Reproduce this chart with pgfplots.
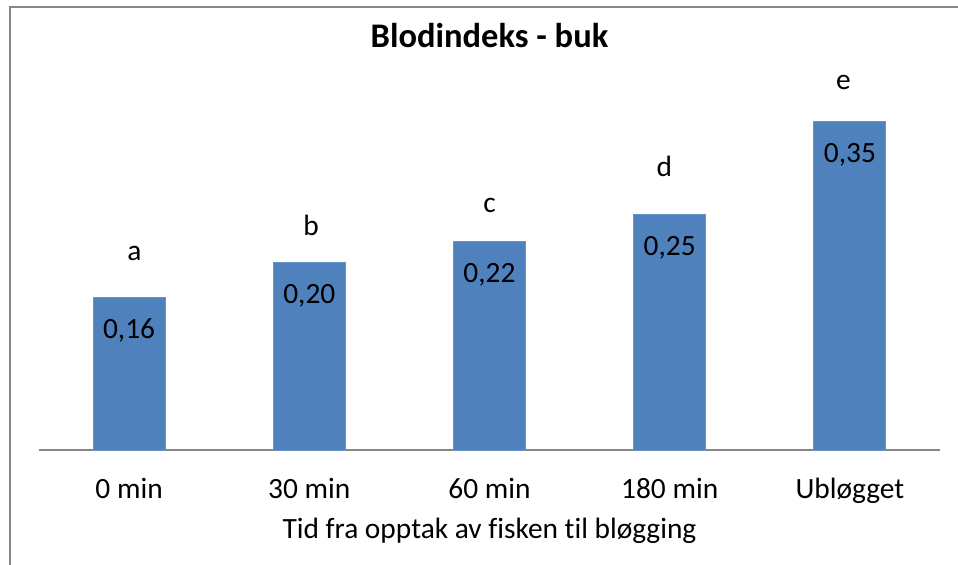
\documentclass[border=0pt]{standalone}
\usepackage{pgfplots}
\pgfplotsset{compat=1.18}
\usepackage{fontspec}
\setmainfont{Carlito}[Ligatures={NoCommon}]
\definecolor{barblue}{HTML}{4F81BD}
\definecolor{framegray}{HTML}{868686}
\begin{document}
\begin{tikzpicture}
\path[use as bounding box] (-19.5pt,-57pt) rectangle (459.5pt,225pt);
\draw[framegray, line width=1pt] (-14.5pt,-60pt) -- (-14.5pt,221.75pt) -- (462pt,221.75pt);
\begin{axis}[
  at={(0,0)}, anchor=south west,
  scale only axis,
  width=450.5pt, height=188.6pt,
  xmin=-0.5, xmax=4.5, ymin=0, ymax=0.4,
  axis x line=bottom, axis y line=none,
  axis line style={-, framegray, line width=1pt},
  xtick={0,1,2,3,4},
  xticklabels={0 min, 30 min, 60 min, 180 min, Ubløgget},
  major tick length=0pt,
  xticklabel style={anchor=base, yshift=-24pt, font=\fontsize{14.7}{17}\selectfont},
  xlabel={Tid fra opptak av fisken til bløgging},
  xlabel style={at={(axis description cs:0.5,0)}, anchor=base, yshift=-44pt, font=\fontsize{14.7}{17}\selectfont},
  title={Blodindeks - buk},
  title style={at={(axis description cs:0.5,0)}, anchor=base, yshift=195.35pt, font=\fontsize{17.25}{20}\selectfont\bfseries},
  clip=false,
]
\addplot[ybar, bar width=36pt, fill=barblue, draw=barblue!85!white,
  nodes near coords, point meta=explicit symbolic,
  nodes near coords style={anchor=base, yshift=-20.5pt, inner sep=0pt, text=black, font=\fontsize{14.7}{17}\selectfont}]
  table[meta=lab] {
x y lab
0 0.162 0,16
1 0.199 0,20
2 0.221 0,22
3 0.250 0,25
4 0.348 0,35
};
\addplot[draw=none, mark=none,
  nodes near coords, point meta=explicit symbolic,
  nodes near coords style={anchor=base, inner sep=0pt, text=black, font=\fontsize{14.7}{17}\selectfont}]
  table[meta=lab] {
x y lab
0.03 0.2007 a
1.01 0.2270 b
2.00 0.2516 c
2.97 0.2898 d
3.964 0.3825 e
};
\end{axis}
\end{tikzpicture}
\end{document}
